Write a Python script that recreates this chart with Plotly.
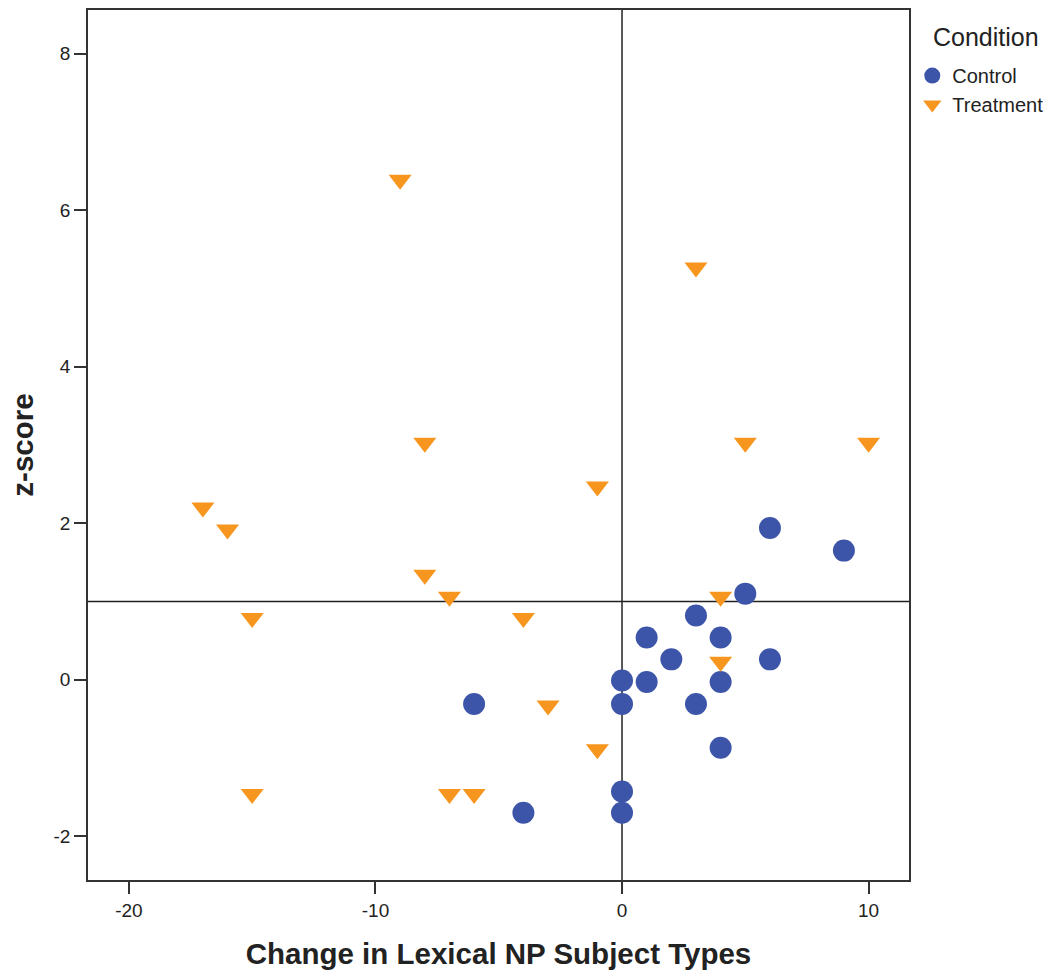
import plotly.graph_objects as go

# Change in lexical NP subject types vs. z-score, by condition
control_change = [-6, -4, 0, 0, 0, 0, 1, 1, 2, 3, 3, 4, 4, 4, 5, 6, 6, 9]
control_z = [-0.31, -1.70, -0.01, -0.31, -1.43, -1.70, 0.54, -0.03, 0.26, 0.82,
             -0.31, 0.54, -0.03, -0.87, 1.10, 0.26, 1.94, 1.65]

treatment_change = [-17, -16, -15, -15, -9, -8, -8, -7, -7, -6, -4, -3, -1, -1,
                    3, 4, 4, 5, 10]
treatment_z = [2.20, 1.92, 0.79, -1.46, 6.39, 3.03, 1.34, 1.06, -1.46, -1.46,
               0.79, -0.33, 2.47, -0.89, 5.27, 1.06, 0.23, 3.03, 3.03]

ref_change = 0
ref_z = 1

x_ticks = [-20, -10, 0, 10]
x_tick_labels = ["-20", "-10", "0", "10"]
y_ticks = [-2, 0, 2, 4, 6, 8]
y_tick_labels = ["-2", "0", "2", "4", "6", "8"]

BLUE = "#3D55A8"
ORANGE = "#F7961E"
FONT = "Liberation Sans, Arial, sans-serif"
INK = "#222222"

fig = go.Figure()
fig.add_trace(go.Scatter(
    x=control_change, y=control_z, mode="markers", name="Control",
    marker=dict(symbol="circle", size=22, color=BLUE, line=dict(width=0)),
))
fig.add_trace(go.Scatter(
    x=treatment_change, y=treatment_z, mode="markers", name="Treatment",
    marker=dict(symbol="triangle-down", size=20, color=ORANGE, line=dict(width=0)),
))

# reference lines
fig.add_shape(type="line", xref="x", yref="paper", x0=ref_change, x1=ref_change,
              y0=0, y1=1, line=dict(color=INK, width=1.5), layer="below")
fig.add_shape(type="line", xref="paper", yref="y", x0=0, x1=1, y0=ref_z, y1=ref_z,
              line=dict(color=INK, width=1.5), layer="below")

axis_common = dict(
    showgrid=False, zeroline=False, showline=True, mirror=True,
    linecolor="#333333", linewidth=1.6, ticks="outside", ticklen=12,
    tickwidth=1.6, tickcolor="#333333",
    tickfont=dict(family=FONT, size=19, color=INK),
)

fig.update_layout(
    width=1054, height=975,
    margin=dict(l=88, r=145, t=10, b=95, autoexpand=False),
    paper_bgcolor="white", plot_bgcolor="white",
    font=dict(family=FONT, color=INK),
    showlegend=True,
    xaxis=dict(range=[-21.66, 11.64], tickvals=x_ticks, ticktext=x_tick_labels,
               title=dict(text="<b>Change in Lexical NP Subject Types</b>",
                          font=dict(size=29.5, family=FONT), standoff=24),
               **axis_common),
    yaxis=dict(range=[-2.56, 8.56], tickvals=y_ticks, ticktext=y_tick_labels,
               title=dict(text="<b>z-score</b>", font=dict(size=29.5, family=FONT),
                          standoff=11),
               **axis_common),
    legend=dict(
        x=1.004, xanchor="left", y=0.947, yanchor="top",
        font=dict(size=20, family=FONT), itemwidth=30,
        bgcolor="rgba(0,0,0,0)",
    ),
    annotations=[dict(
        text="Condition", xref="paper", yref="paper", x=1.094, y=0.969,
        xanchor="center", yanchor="middle", showarrow=False,
        font=dict(size=25, family=FONT, color=INK),
    )],
)

fig.write_html("out.html")
